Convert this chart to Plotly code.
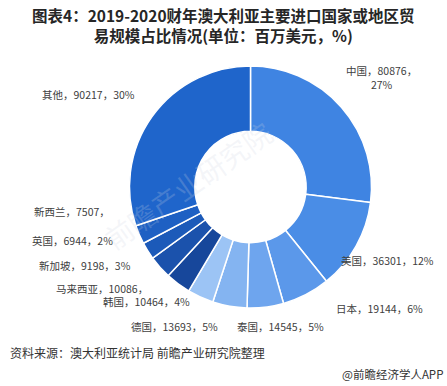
import plotly.graph_objects as go

countries = ["中国", "美国", "日本", "泰国", "德国", "韩国", "马来西亚", "新加坡", "英国", "新西兰", "其他"]
values = [80876, 36301, 19144, 14545, 13693, 10464, 10086, 9198, 6944, 7507, 90217]
pct_labels = ["27%", "12%", "6%", "5%", "5%", "4%", "", "3%", "2%", "", "30%"]
colors = ["#3F84E2", "#4A8DE6", "#5B98EA", "#6EA5EE", "#84B4F1", "#9CC4F5",
          "#17479B", "#1B52AC", "#1C5AB9", "#1E60C3", "#1F65CB"]

# label placement (paper coords of label centers)
label_pos = [(0.853, 0.80), (0.867, 0.324), (0.848, 0.202), (0.627, 0.155), (0.390, 0.155),
             (0.327, 0.218), (0.228, 0.252), (0.190, 0.312), (0.162, 0.376), (0.162, 0.451),
             (0.198, 0.754)]

def label_text(i):
    head = f"{countries[i]}，{values[i]}，"
    if i == 0:
        return head + "<br>" + pct_labels[i]
    return head + pct_labels[i]

fig = go.Figure(go.Pie(
    labels=countries, values=values, sort=False, direction="clockwise", rotation=0,
    hole=0.46, textinfo="none", hoverinfo="label+value+percent",
    marker=dict(colors=colors, line=dict(color="white", width=1.5)),
    domain=dict(x=[0.2886, 0.8322], y=[0.202, 0.829]),
    showlegend=False,
))

ann = []
for i in range(len(countries)):
    x, y = label_pos[i]
    ann.append(dict(x=x, y=y, xref="paper", yref="paper", text=label_text(i), showarrow=False,
                    xanchor="center", yanchor="middle",
                    font=dict(size=10.5, color="#404040", family="Noto Sans CJK SC")))

ann.append(dict(x=0.5, y=0.995, xref="paper", yref="paper", showarrow=False, xanchor="center", yanchor="top",
                text="<b>图表4：2019-2020财年澳大利亚主要进口国家或地区贸<br>易规模占比情况(单位：百万美元，%)</b>",
                font=dict(size=15.5, color="#262626", family="Noto Sans CJK SC")))
ann.append(dict(x=0.018, y=0.088, xref="paper", yref="paper", showarrow=False, xanchor="left", yanchor="middle",
                text="资料来源：澳大利亚统计局 前瞻产业研究院整理",
                font=dict(size=12, color="#333333", family="Noto Sans CJK SC")))
ann.append(dict(x=0.995, y=0.005, xref="paper", yref="paper", showarrow=False, xanchor="right", yanchor="bottom",
                text="@前瞻经济学人APP",
                font=dict(size=11.5, color="#333333", family="Noto Sans CJK SC")))
ann.append(dict(x=0.42, y=0.52, xref="paper", yref="paper", showarrow=False, textangle=-35,
                text="前瞻产业研究院",
                font=dict(size=28, color="rgba(205,212,225,0.22)", family="Noto Sans CJK SC")))

fig.update_layout(width=447, height=386, margin=dict(l=0, r=0, t=0, b=0),
                  paper_bgcolor="white", plot_bgcolor="white", annotations=ann)
fig.write_html("out.html", config={"displayModeBar": False},
               post_script="document.body.style.margin='0';document.body.style.overflow='hidden';")
